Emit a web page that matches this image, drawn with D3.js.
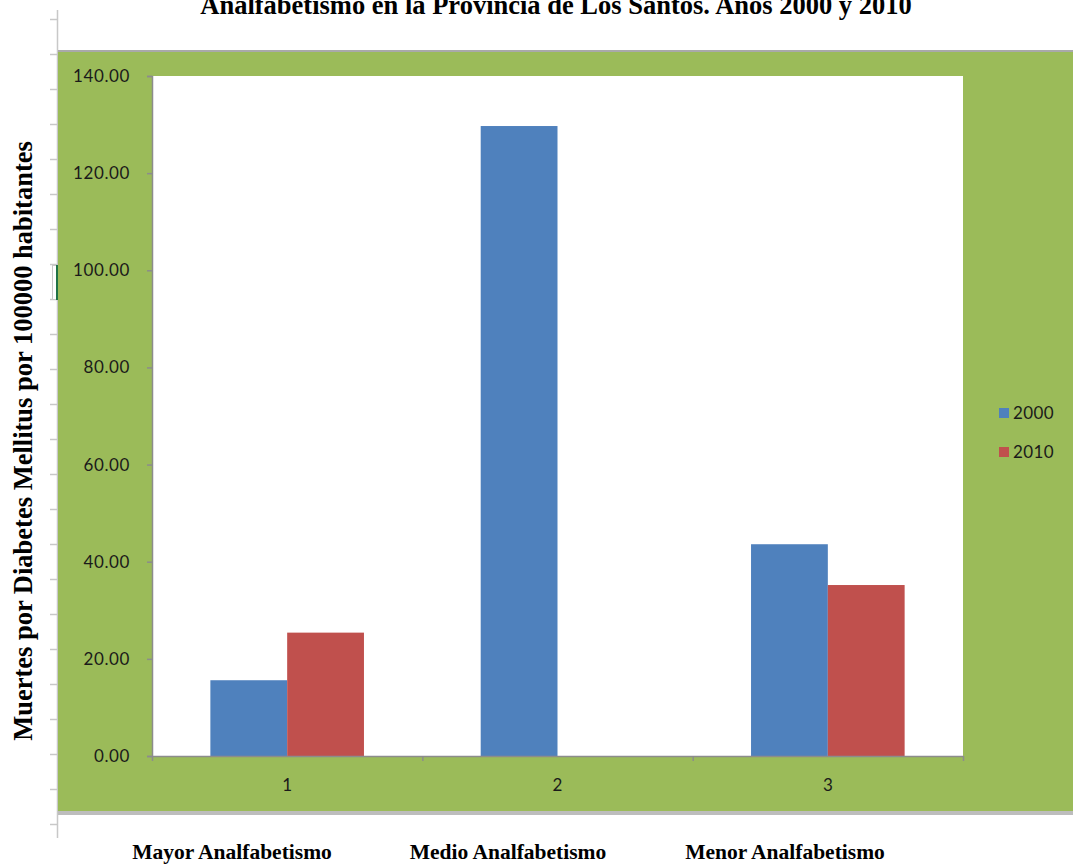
<!DOCTYPE html>
<html>
<head>
<meta charset="utf-8">
<script src="https://cdn.jsdelivr.net/npm/d3@7"></script>
<style>
  html, body { margin: 0; padding: 0; background: #ffffff; }
  svg { display: block; }
</style>
</head>
<body>
<script>
// Mortality data by literacy level, province of Los Santos
const categories = [1, 2, 3];
const groupNames = ["Mayor Analfabetismo", "Medio Analfabetismo", "Menor Analfabetismo"];
const seriesNames = ["2000", "2010"];
const values2000 = [15.6, 129.7, 43.6];
const values2010 = [25.4, null, 35.2];
const yTicks = [0, 20, 40, 60, 80, 100, 120, 140];
const seriesColors = ["#4F81BD", "#C0504D"];

const W = 1073, H = 865;
const svg = d3.select("body").append("svg").attr("width", W).attr("height", H);

// Page frame: ruler line down the left margin
const rulerX = 57.5;
svg.append("line").attr("x1", rulerX).attr("x2", rulerX).attr("y1", 10).attr("y2", 838)
  .attr("stroke", "#c8c8c8").attr("stroke-width", 1.5);
svg.append("g").selectAll("line").data(d3.range(19, 830, 35)).join("line")
  .attr("x1", 50).attr("x2", rulerX).attr("y1", d => d + 0.5).attr("y2", d => d + 0.5)
  .attr("stroke", "#c8c8c8").attr("stroke-width", 1.5);

// Green chart area with a soft shadow edge
svg.append("rect").attr("x", 58).attr("y", 50).attr("width", W - 58).attr("height", 3).attr("fill", "#a9a9a9");
svg.append("rect").attr("x", 58).attr("y", 811).attr("width", W - 58).attr("height", 4).attr("fill", "#bdbdbd");
svg.append("rect").attr("x", 58).attr("y", 52).attr("width", W - 58).attr("height", 759).attr("fill", "#9BBB59");

// Small cell marker on the ruler
svg.append("rect").attr("x", 52.5).attr("y", 265.5).attr("width", 5).attr("height", 34)
  .attr("fill", "#ffffff").attr("stroke", "#c8c8c8");
svg.append("line").attr("x1", 57).attr("x2", 57).attr("y1", 265).attr("y2", 300)
  .attr("stroke", "#217346").attr("stroke-width", 2);

// Plot area
const plot = { left: 152, right: 963, top: 76, bottom: 756 };
svg.append("rect").attr("x", plot.left).attr("y", plot.top)
  .attr("width", plot.right - plot.left).attr("height", plot.bottom - plot.top).attr("fill", "#ffffff");

const y = d3.scaleLinear().domain([0, 140]).range([plot.bottom, plot.top]);
const x0 = d3.scaleBand().domain(categories).range([plot.left, plot.right]).paddingInner(0).paddingOuter(0);
const x1 = d3.scaleBand().domain(seriesNames).range([0, x0.bandwidth()]).paddingInner(0).paddingOuter(0.76);

// Bars
const rows = categories.map((c, i) => ({ cat: c, vals: [values2000[i], values2010[i]] }));
const groups = svg.append("g").selectAll("g").data(rows).join("g")
  .attr("transform", d => `translate(${x0(d.cat)},0)`);
groups.selectAll("rect")
  .data(d => d.vals.map((v, j) => ({ key: seriesNames[j], v, j })).filter(e => e.v != null))
  .join("rect")
  .attr("x", e => x1(e.key))
  .attr("width", x1.bandwidth())
  .attr("y", e => y(e.v))
  .attr("height", e => y(0) - y(e.v))
  .attr("fill", e => seriesColors[e.j]);

const labelFont = "Lato, 'Open Sans', sans-serif";

// Y axis
const yAxis = d3.axisLeft(y).tickValues(yTicks).tickFormat(d3.format(".2f")).tickSize(5).tickPadding(17);
const gy = svg.append("g").attr("transform", `translate(${plot.left},0)`).call(yAxis);
gy.select(".domain").attr("stroke", "#8c8c8c").attr("stroke-width", 1.5);
gy.selectAll(".tick line").attr("stroke", "#8c8c8c").attr("stroke-width", 1.5);
gy.selectAll(".tick text").attr("font-family", labelFont)
  .attr("font-size", 17).attr("letter-spacing", 0.6).attr("fill", "#1a1a1a");

// X axis: ticks between categories, labels centred on each category
const xEdge = d3.scaleLinear().domain([0, categories.length]).range([plot.left, plot.right]);
const xAxis = d3.axisBottom(xEdge).tickValues(d3.range(0, categories.length + 1)).tickFormat("").tickSize(5).tickSizeOuter(0);
const gx = svg.append("g").attr("transform", `translate(0,${plot.bottom})`).call(xAxis);
gx.select(".domain").attr("stroke", "#8c8c8c").attr("stroke-width", 1.5);
gx.selectAll(".tick line").attr("stroke", "#8c8c8c").attr("stroke-width", 1.5);
svg.append("g").selectAll("text").data(categories).join("text")
  .attr("x", d => x0(d) + x0.bandwidth() / 2)
  .attr("y", 791)
  .attr("text-anchor", "middle")
  .attr("font-family", labelFont)
  .attr("font-size", 17).attr("fill", "#1a1a1a")
  .text(d => d);

// Legend
const legend = svg.append("g").selectAll("g").data(seriesNames).join("g")
  .attr("transform", (d, i) => `translate(999,${408 + i * 39})`);
legend.append("rect").attr("width", 10).attr("height", 10).attr("fill", (d, i) => seriesColors[i]);
legend.append("text").attr("x", 14).attr("y", 11)
  .attr("font-family", labelFont).attr("letter-spacing", 0.4)
  .attr("font-size", 17).attr("fill", "#1a1a1a").text(d => d);

// Titles
const serif = "'Liberation Serif', 'Times New Roman', serif";
svg.append("text").attr("x", 556).attr("y", 14).attr("text-anchor", "middle")
  .attr("font-family", serif).attr("font-weight", "bold").attr("font-size", 26.5).attr("fill", "#000")
  .text("Analfabetismo en la Provincia de Los Santos. Años 2000 y 2010");

svg.append("text").attr("transform", "translate(32,441) rotate(-90)").attr("text-anchor", "middle")
  .attr("font-family", serif).attr("font-weight", "bold").attr("font-size", 26.5).attr("fill", "#000")
  .text("Muertes por Diabetes Mellitus por 100000 habitantes");

svg.append("g").selectAll("text").data(groupNames).join("text")
  .attr("x", (d, i) => [232, 508, 785][i])
  .attr("y", 859).attr("text-anchor", "middle")
  .attr("font-family", serif).attr("font-weight", "bold").attr("font-size", 21.5).attr("fill", "#000")
  .text(d => d);
</script>
</body>
</html>
